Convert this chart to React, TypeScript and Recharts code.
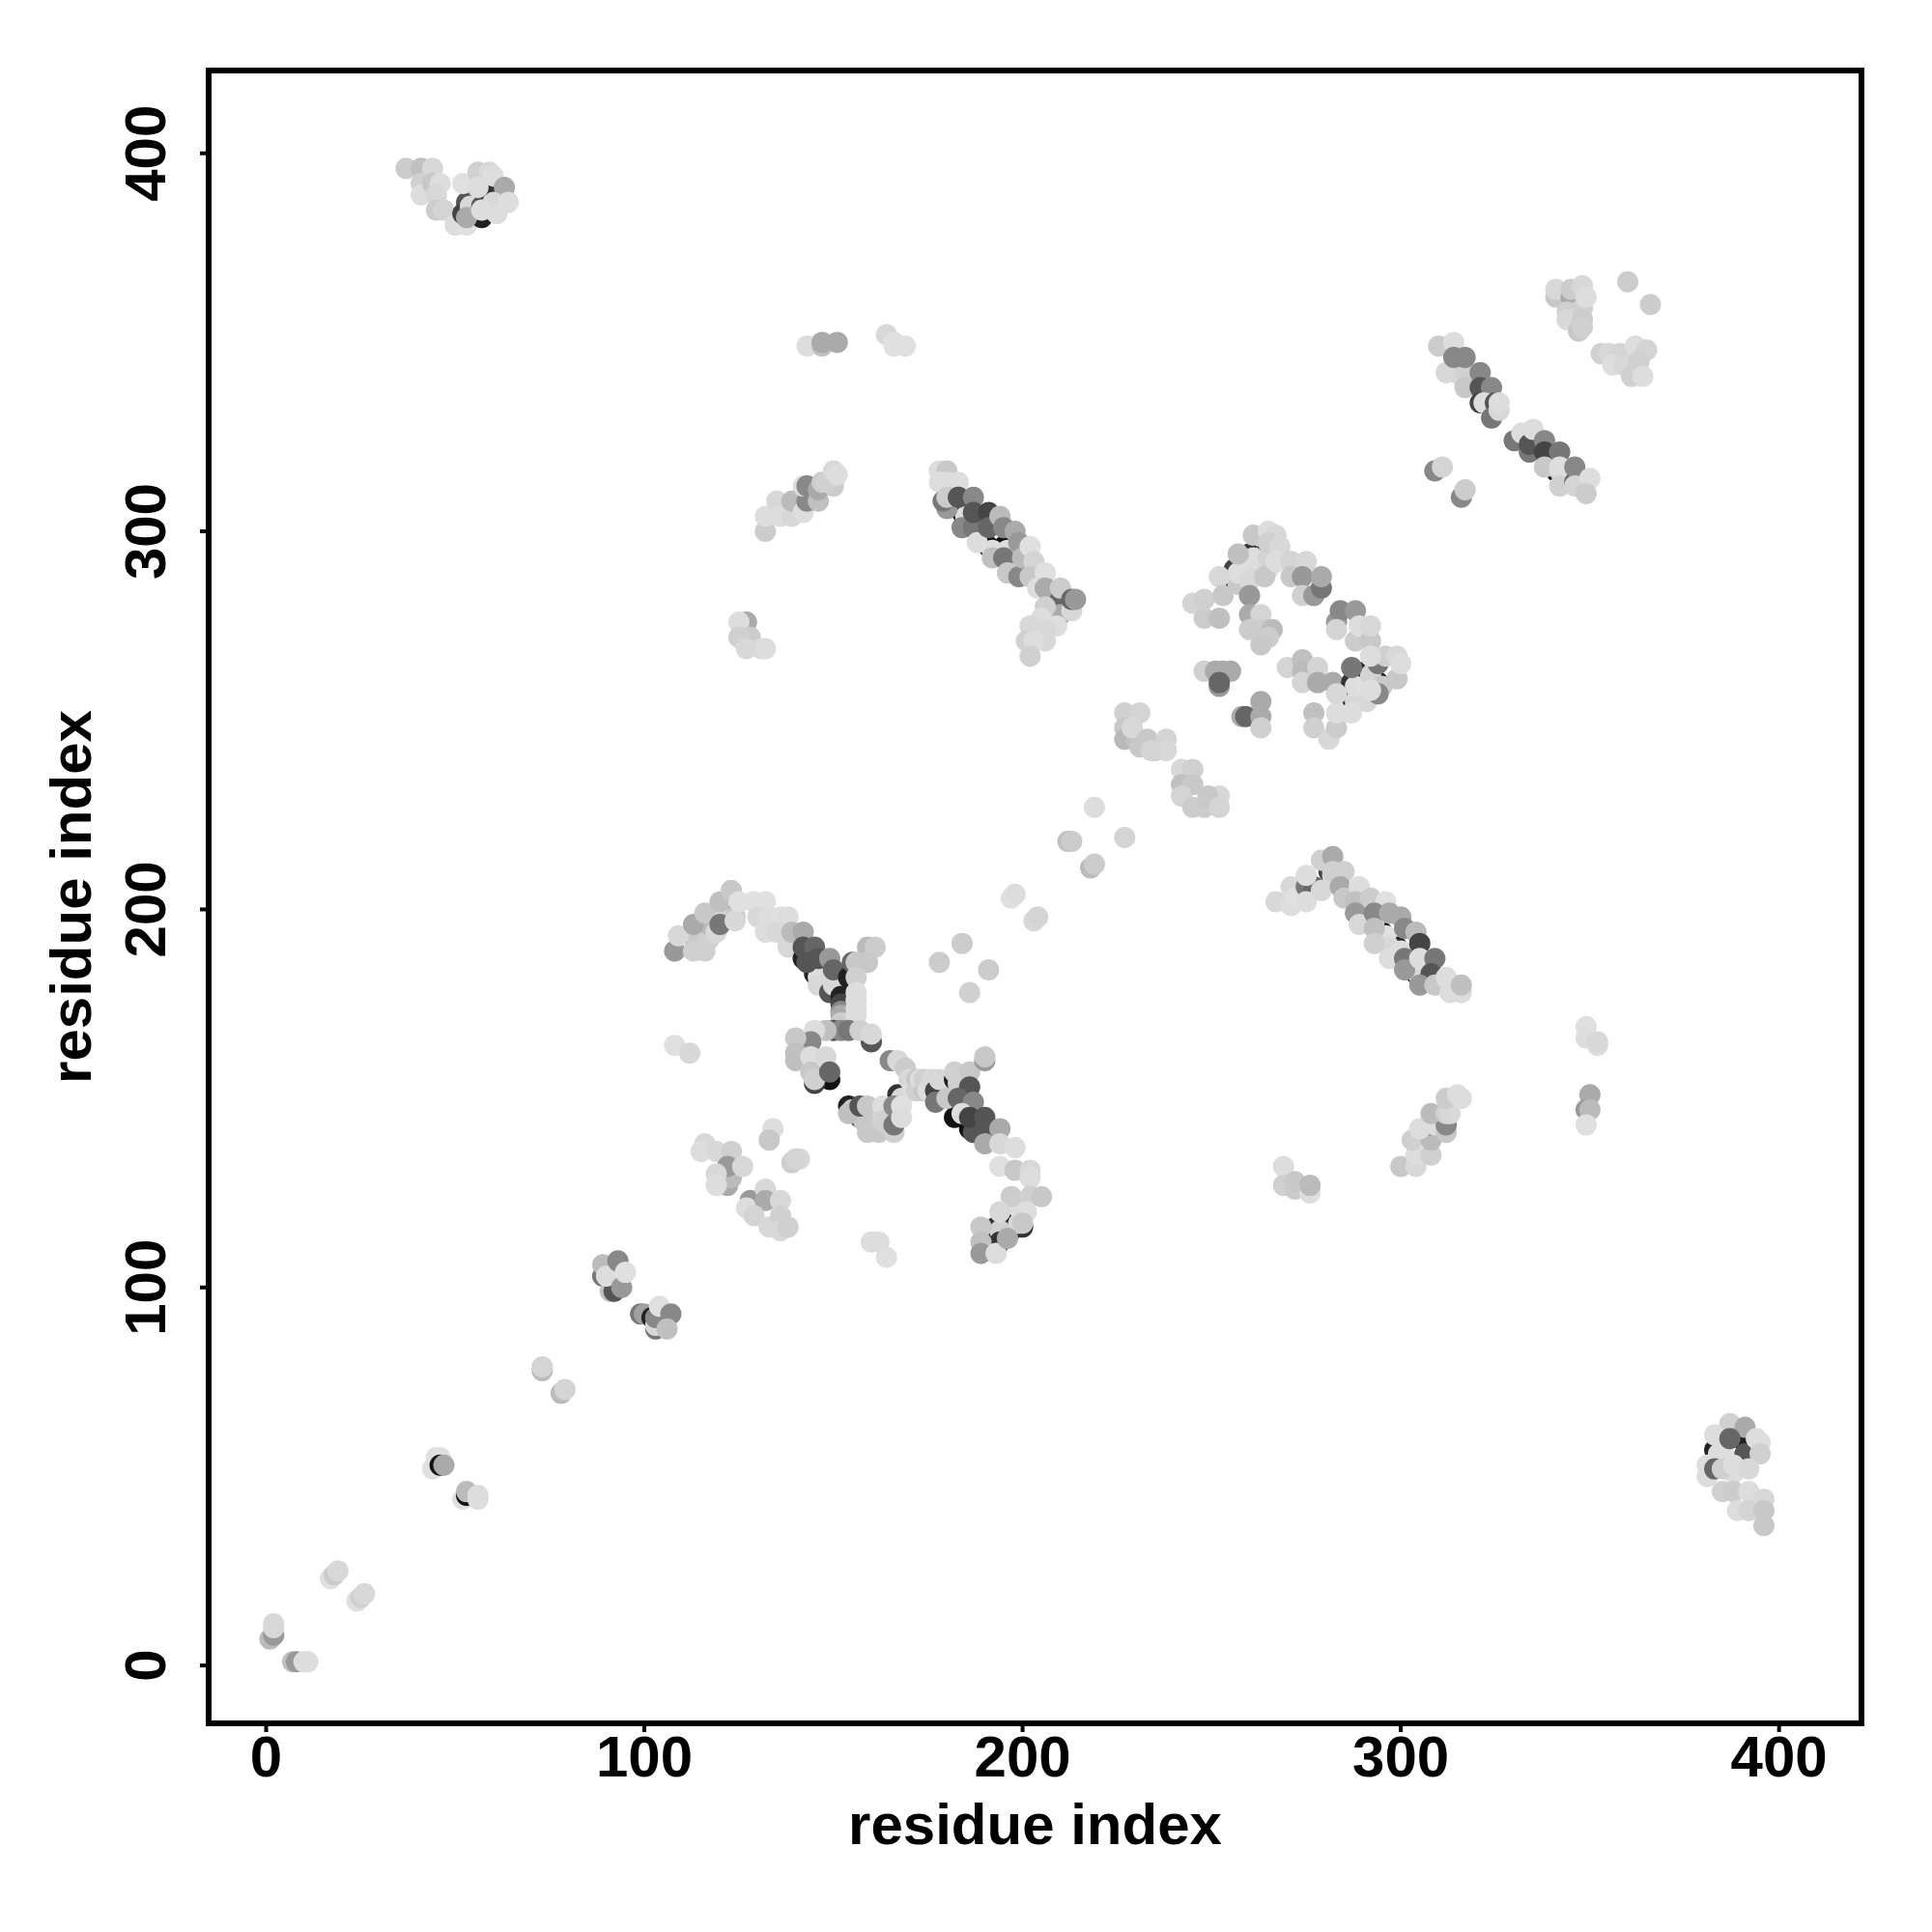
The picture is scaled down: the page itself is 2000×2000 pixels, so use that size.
import React from "react";
import { ScatterChart, Scatter, XAxis, YAxis, ReferenceArea } from "recharts";

type P = [number, number, number];

const xTicks = [0, 100, 200, 300, 400];
const yTicks = [0, 100, 200, 300, 400];
const xDomain: [number, number] = [-15.2, 421.8];
const yDomain: [number, number] = [-15.3, 421.9];
const axisTitle = "residue index";

// each entry: residue x, residue y, grey level; later entries paint over earlier ones
const diagonalLow: P[] = [
  [1, 7, 0xbb], [2, 8, 0x99], [2, 10, 0xd8], [2, 11, 0xd8],
  [7, 1, 0xc0], [8, 1, 0x99], [10, 1, 0xdd], [11, 1, 0xdd],
  [17, 23, 0xe0], [18, 24, 0xcc], [19, 25, 0xd8],
  [24, 17, 0xe0], [25, 18, 0xd0], [26, 19, 0xd8],
  [45, 55, 0xe0], [46, 55, 0xe0], [44, 52, 0xe0], [46, 53, 0x11], [47, 53, 0xaa],
  [52, 44, 0xe0], [53, 45, 0x11], [53, 46, 0xbb], [56, 44, 0xdd], [56, 45, 0xdd],
  [73, 78, 0xbb], [73, 79, 0xd4], [78, 72, 0xbb], [79, 73, 0xd4],
];
const diagonal100: P[] = [
  [89, 103, 0x77], [91, 99, 0xc0], [92, 99, 0x55], [91, 103, 0x33], [89, 106, 0xbb], [90, 103, 0xdd], [94, 100, 0x99], [93, 107, 0x88], [95, 104, 0xe0],
  [99, 93, 0x77], [100, 93, 0xa0], [103, 89, 0x77], [102, 92, 0x22], [103, 90, 0xd8], [103, 92, 0x88], [104, 95, 0xe0], [107, 93, 0x88], [106, 89, 0xc0],
];
const nearDiagonal230: P[] = [
  [227, 252, 0xd0], [231, 252, 0xd4], [227, 248, 0xc8], [227, 245, 0xb8], [230, 245, 0xc0], [229, 248, 0xd8], [233, 245, 0xc8], [238, 245, 0xd4], [235, 242, 0xcc], [231, 243, 0xc8], [238, 242, 0xd8], [234, 242, 0xd4],
  [242, 237, 0xd8], [245, 237, 0xd0], [242, 233, 0xc0], [245, 233, 0xc8], [242, 230, 0xd4], [245, 227, 0xcc], [248, 227, 0xcc], [252, 230, 0xd8], [249, 230, 0xc8], [252, 227, 0xd4],
  [212, 218, 0xc0], [213, 218, 0xcc], [227, 219, 0xd4], [219, 227, 0xdd], [218, 211, 0xbb], [219, 212, 0xcc],
];
const cornerTopLeft: P[] = [
  [37, 396, 0xcc], [41, 396, 0xc0], [44, 396, 0xd8], [41, 392, 0xd0], [41, 389, 0xdd], [44, 392, 0xc8], [46, 392, 0xdd], [45, 389, 0xd8], [45, 385, 0xcc], [47, 385, 0xd4],
  [50, 381, 0xdd], [53, 381, 0xe0], [54, 391, 0x44], [53, 387, 0x55], [52, 384, 0x44], [57, 383, 0x22], [58, 391, 0x11], [56, 387, 0x44],
  [54, 386, 0xd8], [57, 386, 0x55], [59, 390, 0x33],
  [52, 392, 0xe0], [53, 383, 0xaa], [56, 395, 0xd0], [59, 395, 0xd8], [60, 394, 0xdd], [56, 391, 0xdd], [63, 391, 0xaa], [60, 387, 0xd8], [64, 387, 0xdd], [61, 384, 0xdd], [57, 385, 0xdd],
];
const cornerBottomRight: P[] = [
  [383, 57, 0x22], [385, 56, 0x22], [390, 60, 0x22], [387, 52, 0x33],
  [384, 56, 0xdd], [386, 55, 0xdd], [388, 51, 0xdd],
  [381, 53, 0xdd], [381, 50, 0xdd], [387, 64, 0xd0], [391, 63, 0xaa], [383, 61, 0xdd], [387, 60, 0x66], [391, 56, 0x55], [394, 60, 0xdd], [395, 59, 0xdd], [395, 56, 0xd0],
  [383, 52, 0x66], [385, 52, 0xd0], [388, 53, 0xdd], [392, 52, 0xd8],
  [385, 46, 0xd0], [388, 46, 0xcc], [392, 46, 0xdd], [389, 41, 0xdd], [392, 41, 0xd4], [396, 44, 0xd8], [396, 41, 0xc8], [396, 37, 0xc8],
];
const strandTopMid: P[] = [
  [143, 349, 0xdd], [147, 349, 0xc0], [147, 350, 0xaa], [151, 350, 0xaa],
  [164, 352, 0xd8], [166, 350, 0xe0], [166, 349, 0xe0], [169, 349, 0xe0],
  [132, 300, 0xcc], [132, 304, 0xdd], [135, 308, 0xd8], [136, 304, 0xdd], [139, 304, 0xd8], [139, 308, 0xbb], [142, 305, 0xdd], [143, 308, 0x88], [142, 312, 0xdd], [143, 312, 0x88],
  [146, 308, 0xc0], [146, 311, 0xaa], [147, 313, 0xcc], [150, 312, 0xcc], [148, 313, 0xd0], [150, 316, 0xd8], [151, 315, 0xdd],
  [127, 276, 0xaa], [125, 276, 0xdd], [128, 272, 0xcc], [125, 272, 0xd0], [127, 269, 0xd8], [131, 269, 0xd8], [132, 269, 0xdd],
];
const strandUpper: P[] = [
  [184, 305, 0x22], [191, 296, 0x11], [195, 296, 0x11], [198, 293, 0x11],
  [185, 304, 0xdd], [192, 295, 0xdd], [196, 295, 0xdd], [199, 292, 0xdd],
  [178, 316, 0xdd], [180, 316, 0xc8], [178, 313, 0xdd], [180, 313, 0xdd], [183, 313, 0xdd], [180, 306, 0x99], [179, 308, 0x77], [180, 309, 0xcc],
  [184, 301, 0x88], [183, 309, 0x55], [187, 309, 0x88], [187, 301, 0x77], [187, 305, 0x55], [188, 297, 0xdd], [191, 305, 0x44], [191, 301, 0x66], [192, 293, 0xc0],
  [194, 304, 0xbb], [195, 301, 0x88], [198, 300, 0xaa], [195, 293, 0x77], [196, 289, 0xc8], [199, 288, 0x88], [199, 297, 0x99], [200, 293, 0xbb],
  [202, 296, 0xe0], [203, 292, 0xd4], [202, 288, 0xc8], [206, 289, 0xe0], [204, 285, 0xdd], [206, 285, 0xaa],
  [210, 282, 0x66], [210, 285, 0xcc], [210, 278, 0xaa], [213, 279, 0xd8], [213, 282, 0x66], [214, 282, 0x99],
  [206, 280, 0xd0], [205, 277, 0xdd], [209, 275, 0xdd], [206, 274, 0xd8], [202, 275, 0xd8], [206, 271, 0xd8], [201, 271, 0xd0], [203, 271, 0xdd], [202, 267, 0xd0],
];
const scatteredDots: P[] = [
  [197, 203, 0xe0], [198, 204, 0xdd], [203, 197, 0xd8], [204, 198, 0xd4], [184, 191, 0xcc], [178, 186, 0xcc], [191, 184, 0xcc], [186, 178, 0xd0],
  [108, 164, 0xe0], [112, 162, 0xd8], [160, 112, 0xdd], [162, 112, 0xdd], [164, 108, 0xe0],
];
const armUpperLeft: P[] = [
  [113, 193, 0x22], [116, 193, 0x22], [116, 197, 0x44], [120, 199, 0x33], [123, 199, 0x44],
  [114, 192, 0xc8], [117, 192, 0xd0], [117, 196, 0xbb], [121, 198, 0xd8], [124, 198, 0xc8],
  [108, 189, 0x99], [109, 193, 0xd8], [113, 189, 0xd0], [116, 189, 0xd0], [113, 196, 0xaa], [119, 194, 0xd8], [116, 199, 0xc8], [120, 196, 0x77],
  [120, 202, 0xc0], [124, 197, 0xd8], [123, 205, 0xc8], [125, 202, 0xe0],
  [129, 202, 0xe0], [132, 202, 0xe0], [130, 198, 0xd8], [133, 198, 0xdd], [136, 198, 0xe0], [138, 198, 0xdd], [132, 194, 0xdd], [135, 194, 0xd8], [138, 190, 0xd8], [139, 194, 0xbb], [142, 194, 0xaa],
  [142, 187, 0x22], [145, 183, 0x22], [148, 183, 0x11], [146, 182, 0xdd], [149, 182, 0xdd], [146, 180, 0xd8], [142, 190, 0x55], [145, 190, 0x66], [143, 186, 0x55], [146, 187, 0x55], [149, 187, 0x99], [149, 178, 0x55], [150, 180, 0xd8], [150, 184, 0x66],
  [152, 177, 0x22], [154, 182, 0x22], [152, 175, 0x44], [152, 173, 0x88], [152, 172, 0xaa], [152, 170, 0xcc],
  [155, 186, 0x66], [159, 190, 0xbb], [161, 190, 0xcc], [159, 186, 0xc8], [156, 186, 0xc8], [156, 182, 0xd0], [156, 178, 0xdd], [156, 176, 0xdd], [156, 174, 0xdd], [156, 172, 0xdd],
];
const armRing: P[] = [
  [149, 155, 0x11], [145, 154, 0x44], [150, 168, 0x55], [152, 168, 0x88], [154, 168, 0x77], [160, 165, 0x55],
  [148, 168, 0xc0], [145, 168, 0xdd], [144, 165, 0x88], [140, 166, 0xc8], [140, 162, 0xc0], [140, 160, 0xc0], [144, 161, 0xdd], [148, 161, 0xd8], [144, 157, 0xc8], [145, 155, 0xd0], [149, 157, 0x66],
  [157, 168, 0xd0], [160, 167, 0xd8],
  [154, 148, 0x22], [157, 145, 0x33], [167, 151, 0x33], [155, 147, 0xc8], [158, 144, 0xc8], [168, 150, 0xd8], [154, 146, 0xc0], [157, 148, 0x55], [159, 148, 0xc8], [159, 141, 0xc8], [162, 141, 0xc8], [163, 148, 0xdd], [163, 144, 0xd0], [166, 141, 0xd0], [166, 148, 0x88], [166, 143, 0x77], [168, 148, 0xe0], [168, 145, 0xdd],
  [165, 160, 0x88], [167, 160, 0xd8], [169, 158, 0xcc],
  [170, 155, 0xd8], [171, 152, 0xdd], [172, 155, 0xc8], [172, 152, 0xd0], [173, 155, 0xdd], [174, 152, 0xc8], [174, 155, 0xd0], [175, 152, 0xdd], [176, 155, 0xd8], [177, 152, 0x44], [178, 155, 0xd8],
];
const armLowerRight: P[] = [
  [182, 155, 0x22], [182, 145, 0x11], [186, 142, 0x11], [183, 154, 0xd0], [187, 141, 0x55], [177, 149, 0x77], [180, 150, 0xc8], [182, 157, 0xd0], [186, 157, 0xc8], [186, 153, 0x55],
  [190, 160, 0x99], [190, 161, 0xc8], [183, 150, 0x66], [187, 149, 0x88], [184, 146, 0xdd], [186, 145, 0x44], [190, 145, 0x55], [190, 142, 0x55], [194, 142, 0xaa], [190, 138, 0xaa],
  [194, 138, 0xd8], [198, 137, 0xdd], [194, 132, 0xe0], [198, 131, 0xc8], [202, 131, 0xd8], [202, 129, 0xdd],
  [200, 122, 0x22], [198, 118, 0x11], [193, 116, 0x33], [193, 113, 0x22], [193, 110, 0x55], [197, 115, 0x44], [200, 116, 0x33],
  [199, 117, 0xd8], [194, 115, 0xd0], [199, 121, 0xdd], [194, 112, 0x33],
  [197, 124, 0xcc], [202, 124, 0xd0], [205, 124, 0xc8], [201, 120, 0xdd], [194, 120, 0xd8], [189, 116, 0xc8], [189, 112, 0xc0], [189, 109, 0x99], [193, 109, 0xdd], [196, 113, 0xaa], [200, 117, 0xc8],
];
const lowerIslands: P[] = [
  [116, 138, 0xd8], [115, 136, 0xdd], [119, 136, 0xd8], [123, 136, 0xd0], [122, 128, 0x55], [122, 127, 0xaa], [123, 129, 0xbb], [122, 132, 0x99], [126, 132, 0xd8], [119, 130, 0xd8], [119, 127, 0xdd],
  [134, 142, 0xdd], [133, 139, 0xc8], [139, 133, 0xcc], [141, 134, 0xd8], [140, 134, 0xd4],
  [128, 123, 0x99], [127, 121, 0xdd], [132, 126, 0xd8], [132, 123, 0xaa], [136, 123, 0xd8], [129, 119, 0xd4], [133, 116, 0xd8], [136, 119, 0xd0], [136, 115, 0xd8], [138, 116, 0xd0],
];
const squareRegion: P[] = [
  [258, 291, 0x11], [260, 290, 0x22], [264, 291, 0x22], [256, 287, 0x33], [256, 290, 0x44], [260, 294, 0x33], [264, 294, 0x55],
  [259, 290, 0xdd], [261, 289, 0xd8], [265, 290, 0xdd], [257, 286, 0xc8], [257, 289, 0xdd], [261, 293, 0xdd], [265, 293, 0xd4],
  [245, 281, 0xd4], [248, 277, 0xcc], [248, 282, 0xd0], [252, 277, 0xc0], [252, 288, 0xd8], [253, 283, 0xc8], [257, 294, 0xc0], [261, 299, 0xc8], [265, 300, 0xdd], [267, 299, 0xd8], [265, 297, 0xd0], [268, 296, 0xd8],
  [260, 287, 0xd8], [260, 283, 0x99], [264, 288, 0xc8], [267, 292, 0xdd],
  [271, 292, 0xd4], [271, 288, 0xc8], [275, 292, 0xd8], [274, 288, 0x99], [274, 283, 0xd0], [277, 283, 0x99], [279, 285, 0x77], [279, 288, 0xaa],
  [260, 278, 0xaa], [263, 278, 0xd4], [260, 274, 0xcc], [264, 274, 0xcc], [266, 274, 0xbb], [265, 272, 0xcc], [263, 270, 0xc8],
  [248, 263, 0xd0], [251, 263, 0xaa], [253, 263, 0xaa], [255, 263, 0xaa], [252, 259, 0x99], [252, 260, 0x66],
  [258, 251, 0xaa], [259, 251, 0x66], [263, 255, 0xaa], [263, 251, 0xaa], [263, 248, 0xd0],
  [270, 264, 0xd4], [274, 266, 0xc0], [274, 263, 0xbb], [278, 264, 0xd4], [274, 260, 0xd4], [278, 260, 0xaa], [282, 260, 0xaa],
  [287, 256, 0x33], [287, 260, 0x33], [290, 259, 0x11], [290, 256, 0x33], [291, 263, 0x22], [294, 260, 0x22],
  [288, 255, 0xd8], [288, 259, 0xdd], [291, 258, 0xe0], [291, 255, 0xd8], [292, 262, 0xd4], [295, 259, 0xc8],
  [277, 252, 0xc0], [277, 248, 0xd0], [281, 245, 0xd8], [283, 248, 0xcc], [283, 252, 0xdd], [283, 257, 0xd8], [287, 252, 0xdd], [287, 264, 0x77], [294, 257, 0x88], [294, 265, 0x77], [292, 258, 0xdd],
  [299, 261, 0xc8], [296, 267, 0xd0], [299, 267, 0xd8], [300, 265, 0xdd],
  [283, 276, 0x99], [284, 279, 0x88], [288, 279, 0x99], [283, 274, 0xd4], [288, 271, 0xcc], [289, 275, 0xdd], [292, 271, 0xc8], [292, 275, 0xd8], [292, 267, 0xdd],
];
const strandLowerRight: P[] = [
  [292, 198, 0x22], [295, 194, 0x11], [296, 191, 0x44], [299, 190, 0x22], [301, 187, 0x33], [304, 183, 0x22], [281, 210, 0x44],
  [293, 197, 0xdd], [296, 193, 0xe0], [297, 190, 0xd8], [300, 189, 0xdd], [302, 186, 0xdd], [305, 182, 0xd8], [282, 209, 0xdd],
  [267, 202, 0xd8], [271, 206, 0xd8], [271, 201, 0xdd], [272, 203, 0xe0], [275, 206, 0x77], [277, 206, 0x66], [275, 202, 0xdd], [275, 209, 0xdd], [279, 205, 0xd8], [279, 213, 0xd0], [282, 214, 0xaa], [282, 210, 0xd0], [285, 210, 0xd0],
  [284, 206, 0xaa], [285, 203, 0xc8], [289, 206, 0xdd], [288, 202, 0xc0], [292, 203, 0xcc], [296, 202, 0xe0], [288, 199, 0x99], [289, 196, 0xd8], [293, 199, 0x88], [293, 195, 0xc0], [293, 191, 0xd0], [297, 199, 0xaa], [300, 198, 0xaa],
  [297, 187, 0xdd], [301, 195, 0x88], [304, 194, 0xbb], [301, 187, 0x77], [301, 184, 0x99], [305, 191, 0x44], [305, 187, 0xdd], [309, 187, 0x77], [308, 183, 0x55], [305, 180, 0x99], [309, 180, 0xc8], [312, 182, 0xdd], [313, 178, 0xdd], [316, 178, 0xdd], [316, 180, 0xc0],
];
const strandLowerIslands: P[] = [
  [269, 132, 0xdd], [269, 127, 0xd0], [272, 126, 0xcc], [272, 128, 0xc8], [276, 125, 0xdd], [276, 127, 0xbb],
  [300, 132, 0xc8], [304, 132, 0xd8], [304, 135, 0xdd], [308, 135, 0xd0], [303, 139, 0xd0], [308, 139, 0xbb], [308, 143, 0x88], [305, 142, 0xdd], [309, 143, 0xdd], [312, 141, 0xc8], [312, 143, 0x88],
  [308, 146, 0xbb], [312, 146, 0xd0], [313, 146, 0xd8], [312, 150, 0xcc], [315, 151, 0xdd], [316, 150, 0xdd],
  [349, 169, 0xe0], [349, 166, 0xdd], [352, 164, 0xdd], [352, 165, 0xd8],
  [350, 151, 0xaa], [349, 147, 0x99], [350, 147, 0xbb], [349, 143, 0xe0],
];
const topRightClusters: P[] = [
  [315, 342, 0x11], [341, 316, 0x11],
  [360, 366, 0xcc], [366, 360, 0xcc],
  [341, 362, 0xc8], [341, 364, 0xd8], [345, 362, 0xaa], [345, 364, 0xcc], [348, 365, 0xd8], [344, 358, 0xd0], [344, 356, 0xd8], [348, 359, 0xd0], [348, 356, 0xcc], [347, 353, 0xc8], [348, 354, 0xd0], [349, 362, 0xdd],
  [353, 347, 0xd0], [355, 347, 0xd8], [358, 347, 0xd4], [356, 344, 0xdd], [359, 344, 0xd8], [362, 349, 0xdd], [365, 348, 0xd4], [363, 345, 0xd0], [361, 341, 0xd0], [364, 341, 0xdd],
  [310, 349, 0xcc], [314, 350, 0xdd], [312, 342, 0xd8], [316, 341, 0xd8], [317, 342, 0xd0], [314, 346, 0x88], [317, 346, 0x88], [317, 338, 0xc8],
  [321, 342, 0x88], [321, 338, 0x55], [324, 338, 0x88], [321, 334, 0x44], [322, 334, 0xdd], [325, 334, 0x55], [324, 330, 0x77], [326, 332, 0xd8], [326, 334, 0xdd],
  [330, 324, 0x77], [332, 326, 0xdd], [334, 321, 0x77], [334, 323, 0x55], [335, 327, 0xdd], [338, 324, 0x88], [338, 321, 0x44], [338, 317, 0xc8],
  [342, 321, 0x77], [342, 316, 0xd8], [342, 317, 0xdd], [342, 312, 0xd0], [346, 313, 0x66], [346, 317, 0x88], [346, 312, 0xd4], [350, 314, 0xdd], [349, 310, 0xcc],
  [309, 316, 0x88], [311, 317, 0xd4], [316, 309, 0x88], [317, 311, 0xcc],
];

const seriesBlocks = [
  diagonalLow, diagonal100, nearDiagonal230, cornerTopLeft, cornerBottomRight, strandTopMid, strandUpper, scatteredDots,
  armUpperLeft, armRing, armLowerRight, lowerIslands, squareRegion, strandLowerRight, strandLowerIslands, topRightClusters,
];
const tableRows = seriesBlocks.flat().map(([x, y, g]) => ({ x, y, g }));

const FONT = "'Liberation Sans', Arial, sans-serif";

const Dot = (props: any) => {
  const g = props.payload.g;
  return <circle cx={props.cx} cy={props.cy} r={11} fill={`rgb(${g},${g},${g})`} />;
};

const XTick = (props: any) => (
  <text x={props.x} y={props.y + 46} textAnchor="middle" fontFamily={FONT} fontWeight={700} fontSize={60} fill="#000">
    {props.payload.value}
  </text>
);

const YTick = (props: any) => (
  <text
    x={props.x - 36}
    y={props.y}
    transform={`rotate(-90 ${props.x - 36} ${props.y})`}
    textAnchor="middle"
    fontFamily={FONT}
    fontWeight={700}
    fontSize={60}
    fill="#000"
  >
    {props.payload.value}
  </text>
);

export default function App() {
  return (
    <div style={{ position: "absolute", left: 0, top: 0, width: 2000, height: 2000, background: "#fff" }}>
      <ScatterChart width={2000} height={2000} margin={{ left: 86, right: 73, top: 73, bottom: 76 }}>
        <XAxis
          type="number"
          dataKey="x"
          domain={xDomain}
          ticks={xTicks}
          height={140}
          allowDataOverflow
          axisLine={false}
          tickLine={{ stroke: "#000", strokeWidth: 4 }}
          tickSize={9}
          tickMargin={0}
          tick={XTick}
          label={{ value: axisTitle, position: "insideBottom", offset: 15, style: { fontFamily: FONT, fontWeight: 700, fontSize: 60, fill: "#000", textAnchor: "middle" } }}
        />
        <YAxis
          type="number"
          dataKey="y"
          domain={yDomain}
          ticks={yTicks}
          width={130}
          allowDataOverflow
          axisLine={false}
          tickLine={{ stroke: "#000", strokeWidth: 4 }}
          tickSize={9}
          tickMargin={0}
          tick={YTick}
          label={{ value: axisTitle, angle: -90, position: "insideLeft", offset: -13, style: { fontFamily: FONT, fontWeight: 700, fontSize: 60, fill: "#000", textAnchor: "middle" } }}
        />
        <ReferenceArea x1={xDomain[0]} x2={xDomain[1]} y1={yDomain[0]} y2={yDomain[1]} fill="none" stroke="#000" strokeWidth={6} ifOverflow="visible" />
        <Scatter data={tableRows} shape={Dot} isAnimationActive={false} />
      </ScatterChart>
    </div>
  );
}
